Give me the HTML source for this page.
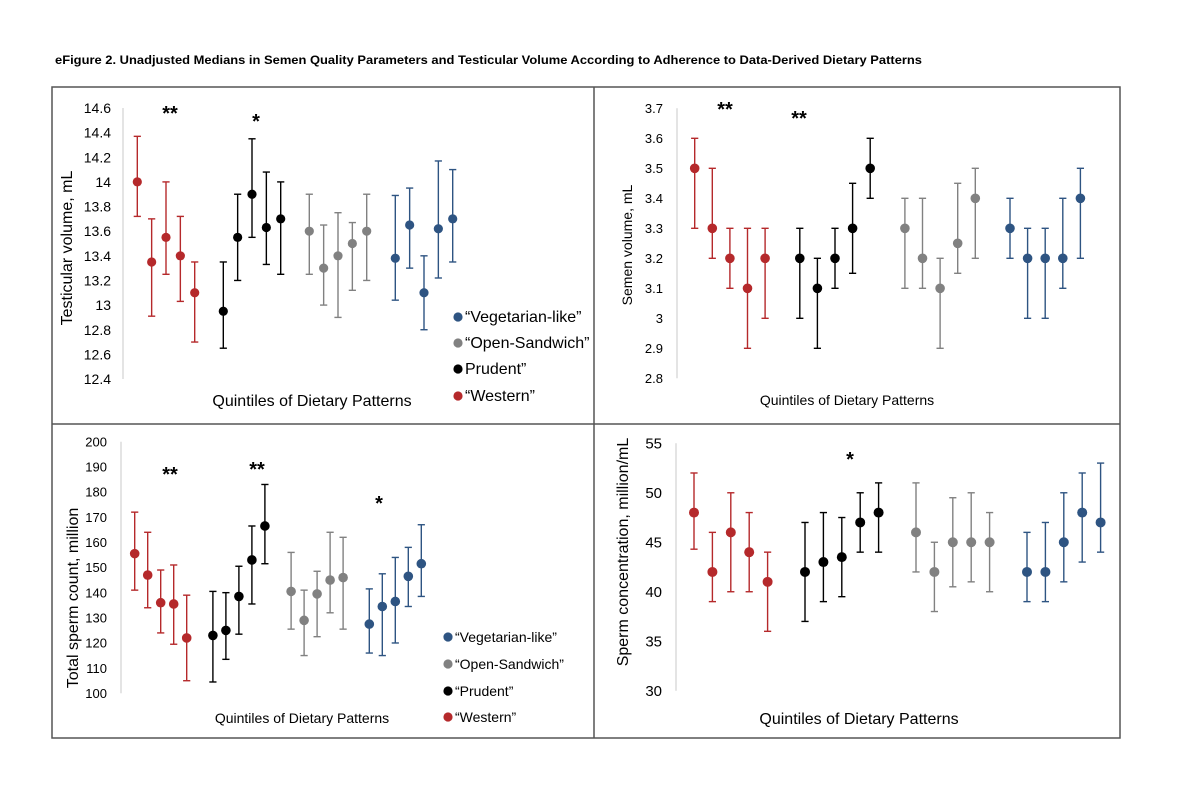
<!DOCTYPE html>
<html><head><meta charset="utf-8"><style>
html,body{margin:0;padding:0;background:#fff;}
svg{display:block;font-family:"Liberation Sans",sans-serif;}
</style></head><body>
<svg id="fig" width="1200" height="803" viewBox="0 0 1200 803">
<rect x="0" y="0" width="1200" height="803" fill="#fff"/>
<text x="55" y="64" font-size="12" font-weight="bold" textLength="867" lengthAdjust="spacingAndGlyphs">eFigure 2. Unadjusted Medians in Semen Quality Parameters and Testicular Volume According to Adherence to Data-Derived Dietary Patterns</text>
<g stroke="#555" stroke-width="1.5" fill="none">
<rect x="52" y="87" width="1068" height="651"/>
<line x1="594" y1="87" x2="594" y2="738"/>
<line x1="52" y1="424" x2="1120" y2="424"/>
</g>
<g id="plots"></g>
</svg>
<script>
// Shared
const groups = ["Western", "Prudent", "Open-Sandwich", "Vegetarian-like"];
const groupColors = ["#b5292b", "#000000", "#818181", "#2e5482"];

// Panel 1: Testicular volume
const tvTicks = [12.4,12.6,12.8,13,13.2,13.4,13.6,13.8,14,14.2,14.4,14.6];
const tvMed = [[14.0,13.35,13.55,13.4,13.1],[12.95,13.55,13.9,13.63,13.7],[13.6,13.3,13.4,13.5,13.6],[13.38,13.65,13.1,13.62,13.7]];
const tvLo  = [[13.72,12.91,13.25,13.03,12.7],[12.65,13.2,13.55,13.33,13.25],[13.25,13.0,12.9,13.12,13.2],[13.04,13.3,12.8,13.22,13.35]];
const tvHi  = [[14.37,13.7,14.0,13.72,13.35],[13.35,13.9,14.35,14.08,14.0],[13.9,13.65,13.75,13.67,13.9],[13.89,13.95,13.4,14.17,14.1]];

// Panel 2: Semen volume
const svTicks = [2.8,2.9,3,3.1,3.2,3.3,3.4,3.5,3.6,3.7];
const svMed = [[3.5,3.3,3.2,3.1,3.2],[3.2,3.1,3.2,3.3,3.5],[3.3,3.2,3.1,3.25,3.4],[3.3,3.2,3.2,3.2,3.4]];
const svLo  = [[3.3,3.2,3.1,2.9,3.0],[3.0,2.9,3.1,3.15,3.4],[3.1,3.1,2.9,3.15,3.2],[3.2,3.0,3.0,3.1,3.2]];
const svHi  = [[3.6,3.5,3.3,3.3,3.3],[3.3,3.2,3.3,3.45,3.6],[3.4,3.4,3.2,3.45,3.5],[3.4,3.3,3.3,3.4,3.5]];

// Panel 3: Total sperm count
const tcTicks = [100,110,120,130,140,150,160,170,180,190,200];
const tcMed = [[155.5,147,136,135.5,122],[123,125,138.5,153,166.5],[140.5,129,139.5,145,146],[127.5,134.5,136.5,146.5,151.5]];
const tcLo  = [[141,134,124,119.5,105],[104.5,113.5,123.5,135.5,151.5],[125.5,115,122.5,132,125.5],[116,115,120,134.5,138.5]];
const tcHi  = [[172,164,149,151,139],[140.5,140,150.5,166.5,183],[156,141,148.5,164,162],[141.5,147.5,154,158,167]];

// Panel 4: Sperm concentration
const scTicks = [30,35,40,45,50,55];
const scMed = [[48,42,46,44,41],[42,43,43.5,47,48],[46,42,45,45,45],[42,42,45,48,47]];
const scLo  = [[44.3,39,40,40,36],[37,39,39.5,44,44],[42,38,40.5,41,40],[39,39,41,43,44]];
const scHi  = [[52,46,50,48,44],[47,48,47.5,50,51],[51,45,49.5,50,48],[46,47,50,52,53]];

const NS = "http://www.w3.org/2000/svg";
const root = document.getElementById("plots");
function mk(tag, attrs, parent){
  const e = document.createElementNS(NS, tag);
  for (const k in attrs) e.setAttribute(k, attrs[k]);
  parent.appendChild(e);
  return e;
}

const panels = [
  {key:"testicular-volume", ticks:tvTicks, med:tvMed, lo:tvLo, hi:tvHi, y0:379, y1:108, axisX:123, tickX:111, tickFs:14,
   x0:137.3, gStep:86, qStep:14.35, r:4.6, title:"Testicular volume, mL", titleX:72, titleY:248, titleFs:16,
   xTitle:"Quintiles of Dietary Patterns", xtX:312, xtY:406, xtFs:16,
   stars:[["**",170,120],["*",256,128]],
   legend:{x:458, ys:[317,343,369,396], fs:16, labels:["\u201CVegetarian-like\u201D","\u201COpen-Sandwich\u201D","Prudent\u201D","\u201CWestern\u201D"], clip:593}},
  {key:"semen-volume", ticks:svTicks, med:svMed, lo:svLo, hi:svHi, y0:378.3, y1:108.3, axisX:677, tickX:663, tickFs:13,
   x0:694.7, gStep:105.1, qStep:17.6, r:4.8, title:"Semen volume, mL", titleX:632, titleY:245, titleFs:14,
   xTitle:"Quintiles of Dietary Patterns", xtX:847, xtY:405, xtFs:14,
   stars:[["**",725,116],["**",799,125]]},
  {key:"total-sperm-count", ticks:tcTicks, med:tcMed, lo:tcLo, hi:tcHi, y0:693.3, y1:441.7, axisX:121, tickX:107, tickFs:13,
   x0:134.7, gStep:78.2, qStep:13.0, r:4.8, title:"Total sperm count, million", titleX:78, titleY:598, titleFs:16,
   xTitle:"Quintiles of Dietary Patterns", xtX:302, xtY:723, xtFs:14,
   stars:[["**",170,481],["**",257,476],["*",379,510]],
   legend:{x:448, ys:[637,664,691,717], fs:14, labels:["\u201CVegetarian-like\u201D","\u201COpen-Sandwich\u201D","\u201CPrudent\u201D","\u201CWestern\u201D"], clip:593}},
  {key:"sperm-concentration", ticks:scTicks, med:scMed, lo:scLo, hi:scHi, y0:690.7, y1:443.3, axisX:676, tickX:662, tickFs:15,
   x0:694, gStep:111, qStep:18.4, r:5, title:"Sperm concentration, million/mL", titleX:628, titleY:552, titleFs:16,
   xTitle:"Quintiles of Dietary Patterns", xtX:859, xtY:724, xtFs:16,
   stars:[["*",850,466]]}
];

panels.forEach(function(p){
  const g = mk("g", {}, root);
  
  
  const tMin = p.ticks[0], tMax = p.ticks[p.ticks.length-1];
  const yS = v => p.y0 + (v - tMin) / (tMax - tMin) * (p.y1 - p.y0);
  const xS = (gi, qi) => p.x0 + gi * p.gStep + qi * p.qStep;

  const ax = mk("line", {x1:p.axisX, x2:p.axisX, y1:p.y0, y2:p.y1, stroke:"#c8c8c8", "stroke-width":1}, g);
  
  

  p.ticks.forEach(function(t){
    const tx = mk("text", {x:p.tickX, y:yS(t)+p.tickFs*0.36, "text-anchor":"end", "font-size":p.tickFs, fill:"#000"}, g);
    tx.textContent = String(t);
    
    
  });

  const yt = mk("text", {x:p.titleX, y:p.titleY, "text-anchor":"middle", "font-size":p.titleFs, transform:"rotate(-90 "+p.titleX+" "+p.titleY+")"}, g);
  yt.textContent = p.title;
  
  

  const xt = mk("text", {x:p.xtX, y:p.xtY, "text-anchor":"middle", "font-size":p.xtFs}, g);
  xt.textContent = p.xTitle;
  
  

  groups.forEach(function(gn, gi){
    const col = groupColors[gi];
    for (let qi = 0; qi < p.med[gi].length; qi++){
      const cx = xS(gi, qi);
      const e = mk("g", {stroke:col, "stroke-width":1.4}, g);
      
      
      const yl = yS(p.lo[gi][qi]), yh = yS(p.hi[gi][qi]);
      mk("line", {x1:cx, x2:cx, y1:yl, y2:yh}, e);
      mk("line", {x1:cx-3.6, x2:cx+3.6, y1:yl, y2:yl}, e);
      mk("line", {x1:cx-3.6, x2:cx+3.6, y1:yh, y2:yh}, e);
      const c = mk("circle", {cx:cx, cy:yS(p.med[gi][qi]), r:p.r, fill:col}, g);
      
      
    }
  });

  p.stars.forEach(function(s){
    const st = mk("text", {x:s[1], y:s[2], "text-anchor":"middle", "font-size":20, "font-weight":"bold"}, g);
    st.textContent = s[0];
    
    
  });

  if (p.legend){
    const cp = mk("clipPath", {id:"clip-"+p.key}, g);
    mk("rect", {x:0, y:0, width:p.legend.clip, height:803}, cp);
    const lg = mk("g", {"clip-path":"url(#clip-"+p.key+")"}, g);
    
    
    const order = [3,2,1,0];
    order.forEach(function(gi, i){
      const y = p.legend.ys[i];
      const d = mk("circle", {cx:p.legend.x, cy:y, r:4.6, fill:groupColors[gi]}, lg);
      
      
      const t = mk("text", {x:p.legend.x+7, y:y+5, "font-size":p.legend.fs}, lg);
      t.textContent = p.legend.labels[i];
      
      
    });
  }
});
</script>
</body></html>
